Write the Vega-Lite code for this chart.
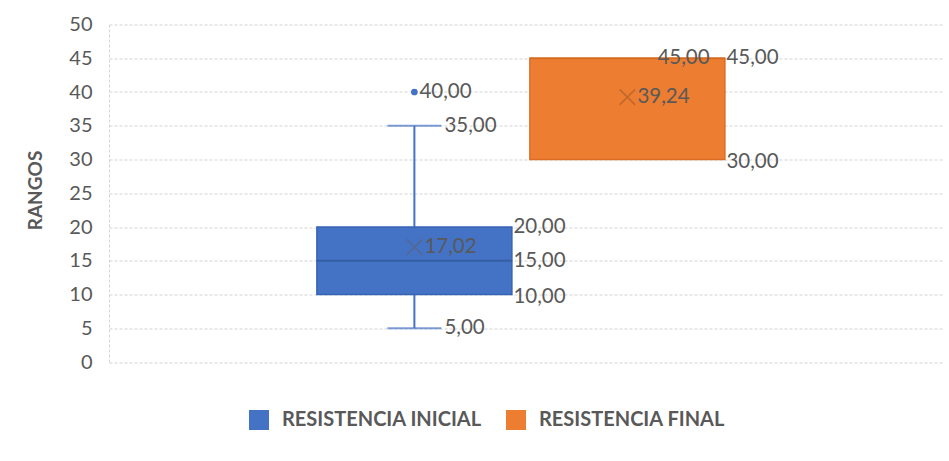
{
  "$schema": "https://vega.github.io/schema/vega-lite/v6.json",
  "width": 834,
  "height": 337.5,
  "autosize": {"type": "none"},
  "padding": {"left": 109, "top": 24.5, "right": 6, "bottom": 99},
  "background": "white",
  "config": {
    "view": {"stroke": null},
    "font": "Lato",
    "locale": {"number": {"decimal": ",", "thousands": ".", "grouping": [3], "currency": ["", " €"]}},
    "text": {"font": "Lato", "fontSize": 20.5, "color": "#595959", "baseline": "middle", "align": "left"},
    "axisY": {
      "tickCount": 10,
      "labelOverlap": false,
      "labelFont": "Lato", "labelFontSize": 20, "labelColor": "#595959", "labelPadding": 17,
      "ticks": false,
      "domain": true, "domainColor": "#d4d4d4", "domainDash": [3, 2], "domainWidth": 1,
      "grid": true, "gridColor": "#d4d4d4", "gridDash": [3, 2], "gridWidth": 1.2,
      "titleFont": "Lato", "titleFontSize": 19, "titleFontWeight": "bold", "titleColor": "#595959",
      "titleX": -74, "titleY": 165.5, "titleAngle": -90, "titleAlign": "center", "titleBaseline": "middle"
    }
  },
  "datasets": {
    "stats": [
      {"serie": "RESISTENCIA INICIAL", "min": 5, "q1": 10, "median": 15, "q3": 20, "max": 35, "mean": 17.02},
      {"serie": "RESISTENCIA FINAL", "min": 30, "q1": 30, "median": 45, "q3": 45, "max": 45, "mean": 39.24}
    ],
    "outliers": [
      {"serie": "RESISTENCIA INICIAL", "value": 40}
    ]
  },
  "data": {"name": "stats"},
  "encoding": {
    "x": {
      "field": "serie", "type": "nominal",
      "sort": ["RESISTENCIA INICIAL", "RESISTENCIA FINAL"],
      "scale": {"paddingInner": 0.0845, "paddingOuter": 1.0, "align": 0.488},
      "axis": null
    }
  },
  "layer": [
    {
      "mark": {"type": "rule", "strokeWidth": 2, "color": "#4472C4"},
      "transform": [{"filter": "datum.min < datum.q1"}],
      "encoding": {
        "y": {"field": "min", "type": "quantitative", "scale": {"domain": [0, 50], "nice": false},
          "axis": {"title": "RANGOS", "tickCount": 10}},
        "y2": {"field": "q1"}
      }
    },
    {
      "mark": {"type": "rule", "strokeWidth": 2, "color": "#4472C4"},
      "transform": [{"filter": "datum.max > datum.q3"}],
      "encoding": {
        "y": {"field": "q3", "type": "quantitative"},
        "y2": {"field": "max"}
      }
    },
    {
      "mark": {"type": "tick", "size": 54, "thickness": 2, "color": "#4472C4"},
      "transform": [{"filter": "datum.min < datum.q1"}],
      "encoding": {"y": {"field": "min", "type": "quantitative"}}
    },
    {
      "mark": {"type": "tick", "size": 54, "thickness": 2, "color": "#4472C4"},
      "transform": [{"filter": "datum.max > datum.q3"}],
      "encoding": {"y": {"field": "max", "type": "quantitative"}}
    },
    {
      "mark": {"type": "bar", "strokeWidth": 1.5},
      "encoding": {
        "y": {"field": "q1", "type": "quantitative"},
        "y2": {"field": "q3"},
        "color": {
          "field": "serie", "type": "nominal",
          "scale": {"domain": ["RESISTENCIA INICIAL", "RESISTENCIA FINAL"], "range": ["#4472C4", "#ED7D31"]},
          "legend": {
            "orient": "none", "direction": "horizontal", "title": null,
            "legendX": 140, "legendY": 385.5, "padding": 0,
            "symbolType": "square", "symbolSize": 400, "symbolStrokeWidth": 0,
            "labelFont": "Lato", "labelFontSize": 20, "labelFontWeight": "bold", "labelColor": "#595959",
            "labelOffset": 13, "columnPadding": 24, "labelLimit": 400
          }
        },
        "stroke": {
          "condition": {"test": "datum.serie == 'RESISTENCIA INICIAL'", "value": "#3763B4"},
          "value": "#DA6D24"
        }
      }
    },
    {
      "mark": {"type": "tick", "thickness": 2, "size": 195},
      "encoding": {
        "y": {"field": "median", "type": "quantitative"},
        "color": {
          "condition": {"test": "datum.serie == 'RESISTENCIA INICIAL'", "value": "#2F5597"},
          "value": "#D46A20"
        }
      }
    },
    {
      "mark": {"type": "point", "shape": "M-1,-1L1,1M-1,1L1,-1", "size": 240, "strokeWidth": 1.5, "filled": false, "opacity": 0.85},
      "encoding": {
        "y": {"field": "mean", "type": "quantitative"},
        "color": {
          "condition": {"test": "datum.serie == 'RESISTENCIA INICIAL'", "value": "#56688f"},
          "value": "#b8652b"
        }
      }
    },
    {
      "data": {"name": "outliers"},
      "mark": {"type": "point", "shape": "circle", "filled": true, "size": 45, "color": "#4472C4", "opacity": 1},
      "encoding": {"y": {"field": "value", "type": "quantitative"}}
    },
    {
      "data": {"name": "outliers"},
      "mark": {"type": "text", "dx": 5},
      "encoding": {"y": {"field": "value", "type": "quantitative"}, "text": {"field": "value", "format": ".2f"}}
    },
    {
      "mark": {"type": "text", "dx": 30},
      "encoding": {"y": {"field": "max", "type": "quantitative"}, "text": {"field": "max", "format": ".2f"}}
    },
    {
      "mark": {"type": "text", "dx": 30},
      "transform": [{"filter": "datum.min < datum.q1"}],
      "encoding": {"y": {"field": "min", "type": "quantitative"}, "text": {"field": "min", "format": ".2f"}}
    },
    {
      "mark": {"type": "text", "dx": 99},
      "encoding": {"y": {"field": "q3", "type": "quantitative"}, "text": {"field": "q3", "format": ".2f"}}
    },
    {
      "mark": {"type": "text", "dx": 99},
      "transform": [{"filter": "datum.median != datum.q3 && datum.median != datum.q1"}],
      "encoding": {"y": {"field": "median", "type": "quantitative"}, "text": {"field": "median", "format": ".2f"}}
    },
    {
      "mark": {"type": "text", "dx": 99, "dy": 2},
      "encoding": {"y": {"field": "q1", "type": "quantitative"}, "text": {"field": "q1", "format": ".2f"}}
    },
    {
      "mark": {"type": "text", "dx": 10},
      "encoding": {"y": {"field": "mean", "type": "quantitative"}, "text": {"field": "mean", "format": ".2f"}}
    }
  ]
}
